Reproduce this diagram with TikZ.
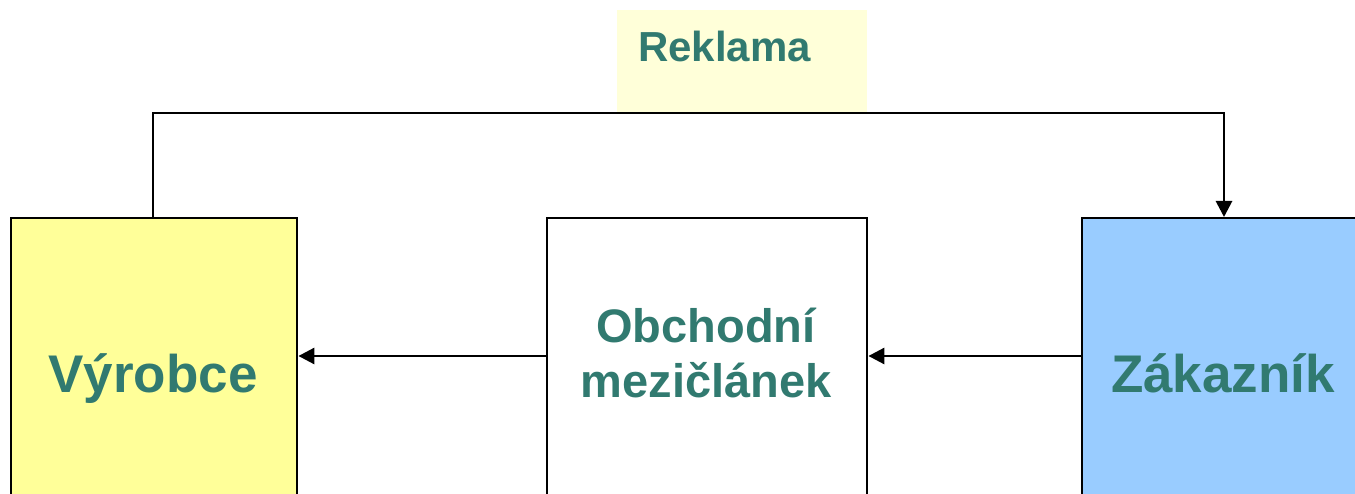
\documentclass[tikz,border=0pt]{standalone}
\usepackage{fontspec}
\setmainfont{Liberation Sans}
\usetikzlibrary{arrows.meta}
\definecolor{txt}{HTML}{317A70}
\definecolor{yel}{HTML}{FFFF99}
\definecolor{blu}{HTML}{99CCFF}
\definecolor{pale}{HTML}{FFFFD9}
\tikzset{
  box/.style={draw=black, line width=2.4pt, anchor=north west, inner sep=0pt},
  lbl/.style={text=txt, font=\bfseries, anchor=base, inner sep=0pt},
  conn/.style={line width=2.8pt, line join=miter},
  tip/.style={-{Triangle[length=16pt,width=16pt]}}
}
\begin{document}
\begin{tikzpicture}[x=1pt,y=-1pt]
\useasboundingbox (0,0) rectangle (1355,494);
\clip (0,0) rectangle (1355,494);
% Reklama
\node[anchor=north west, fill=pale, minimum width=250pt, minimum height=104pt, inner sep=0pt] (rekbox) at (617,10) {};
\node[lbl, anchor=base west, font=\bfseries\fontsize{42}{48}\selectfont] (rek) at (638,62) {Reklama};
% boxes
\node[box, fill=yel, minimum width=286pt, minimum height=320pt] (vyr) at (10,217) {};
\node[box, fill=white, minimum width=320pt, minimum height=320pt] (obch) at (546,217) {};
\node[box, fill=blu, minimum width=320pt, minimum height=320pt] (zak) at (1081,217) {};
% labels
\node[lbl, font=\bfseries\fontsize{53}{60}\selectfont] (tv) at (153,392) {Výrobce};
\node[lbl, font=\bfseries\fontsize{47}{54}\selectfont] (to1) at (706,343) {Obchodní};
\node[lbl, font=\bfseries\fontsize{47}{54}\selectfont] (to2) at (706,397) {mezičlánek};
\node[lbl, font=\bfseries\fontsize{53}{60}\selectfont] (tz) at (1223,392) {Zákazník};
% connectors
\coordinate (vtop) at (153,217);
\coordinate (ztop) at (1224,217);
\draw[conn, tip] (vtop) -- (153,113) -- (1224,113) -- (ztop);
\draw[conn, tip] (zak.west |- 0,356) -- (obch.east |- 0,356);
\draw[conn, tip] (obch.west |- 0,356) -- (vyr.east |- 0,356);
\end{tikzpicture}
\end{document}
